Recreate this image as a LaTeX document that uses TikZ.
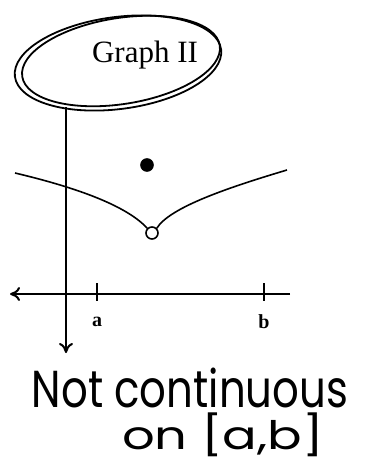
\documentclass[tikz,border=0pt]{standalone}
\usepackage{fontspec}
\usepackage{graphicx}
\setmainfont{Liberation Serif}
\newfontfamily\handfont{Poppins}
\usetikzlibrary{arrows.meta}

\begin{document}
\begin{tikzpicture}[x=0.5pt, y=-0.5pt,
    axis/.style={line width=1pt, -{To[length=5pt,width=7pt]}},
    tickmark/.style={line width=1pt},
    curve/.style={line width=0.8pt},
    loop/.style={line width=0.9pt},
    dot/.style={circle, draw, line width=0.8pt, inner sep=0pt, minimum size=6pt},
    hand/.style={font=\handfont, inner sep=0pt}
]
    \useasboundingbox (0,0) rectangle (366,467);

    % Elipse alrededor del titulo (doble trazo)
    \draw[loop, rotate around={7.5:(118,63)}] (118,63) ellipse (104 and 46);
    \draw[loop, rotate around={9:(121,61)}] (121,61) ellipse (100 and 43);
    \node[font=\fontsize{15.5}{18}\selectfont] (title) at (145,55) {Graph II};

    % Ejes
    \coordinate (ytop) at (66,107);
    \coordinate (ybot) at (66,353);
    \coordinate (xright) at (290,294);
    \coordinate (xleft) at (10,294);
    \draw[axis] (ytop) -- (ybot);
    \draw[axis] (xright) -- (xleft);

    % Marcas a y b
    \foreach \name/\x in {a/97, b/264} {
        \draw[tickmark] (\x,283) -- (\x,301);
        \node[font=\bfseries\fontsize{10}{12}\selectfont] (lbl\name) at (\x,322) {\name};
    }

    % Puntos
    \node[dot, fill=white] (hole) at (152,233) {};
    \node[dot, fill=black] (spot) at (147,165) {};

    % Curva con pico
    \coordinate (cleft) at (15,173);
    \coordinate (cright) at (287,170);
    \draw[curve] (cleft) .. controls (70,186) and (125,204) .. (hole.north west);
    \draw[curve] (hole.north east) .. controls (170,207) and (230,187) .. (cright);

    % Nota a mano
    \node[hand] (note1) at (190,388) {\resizebox*{158pt}{20pt}{Not continuous}};
    \node[hand] (note2) at (223,435) {\resizebox*{101pt}{22pt}{on [a,b]}};

\end{tikzpicture}
\end{document}
